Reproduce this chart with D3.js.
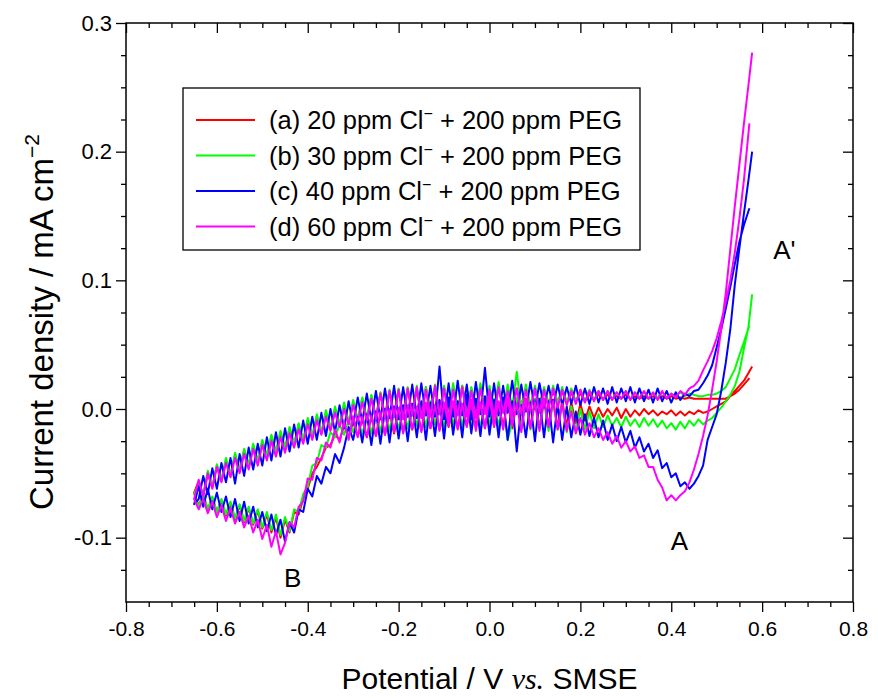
<!DOCTYPE html>
<html><head><meta charset="utf-8">
<script src="https://cdn.jsdelivr.net/npm/d3@7"></script>
<style>body{margin:0;background:#fff} text{font-family:"Liberation Sans",Arial,sans-serif;fill:#000}</style>
</head><body><svg id="chart" width="878" height="698"></svg>
<script>
// Potential grid (V vs. SMSE): cathodic sweep from the vertex, then anodic sweep back
const potentialReverse = [0.578,
0.57,0.56,0.55,0.54,0.53,0.52,0.51,0.50,0.49,0.48,
0.47,0.46,0.45,0.44,0.43,0.42,0.41,0.40,0.39,0.38,
0.37,0.36,0.35,0.34,0.33,0.32,0.31,0.30,0.29,0.28,
0.27,0.26,0.25,0.24,0.23,0.22,0.21,0.20,0.19,0.18,
0.17,0.16,0.15,0.14,0.13,0.12,0.11,0.10,0.09,0.08,
0.07,0.06,0.05,0.04,0.03,0.02,0.01,0.00,-0.01,-0.02,
-0.03,-0.04,-0.05,-0.06,-0.07,-0.08,-0.09,-0.10,-0.11,-0.12,
-0.13,-0.14,-0.15,-0.16,-0.17,-0.18,-0.19,-0.20,-0.21,-0.22,
-0.23,-0.24,-0.25,-0.26,-0.27,-0.28,-0.29,-0.30,-0.31,-0.32,
-0.33,-0.34,-0.35,-0.36,-0.37,-0.38,-0.39,-0.40,-0.41,-0.42,
-0.43,-0.44,-0.45,-0.46,-0.47,-0.48,-0.49,-0.50,-0.51,-0.52,
-0.53,-0.54,-0.55,-0.56,-0.57,-0.58,-0.59,-0.60,-0.61,-0.62,
-0.63,-0.64,-0.65];
const potentialForward = [
-0.64,-0.63,-0.62,-0.61,-0.60,-0.59,-0.58,-0.57,-0.56,-0.55,
-0.54,-0.53,-0.52,-0.51,-0.50,-0.49,-0.48,-0.47,-0.46,-0.45,
-0.44,-0.43,-0.42,-0.41,-0.40,-0.39,-0.38,-0.37,-0.36,-0.35,
-0.34,-0.33,-0.32,-0.31,-0.30,-0.29,-0.28,-0.27,-0.26,-0.25,
-0.24,-0.23,-0.22,-0.21,-0.20,-0.19,-0.18,-0.17,-0.16,-0.15,
-0.14,-0.13,-0.12,-0.11,-0.10,-0.09,-0.08,-0.07,-0.06,-0.05,
-0.04,-0.03,-0.02,-0.01,0.00,0.01,0.02,0.03,0.04,0.05,
0.06,0.07,0.08,0.09,0.10,0.11,0.12,0.13,0.14,0.15,
0.16,0.17,0.18,0.19,0.20,0.21,0.22,0.23,0.24,0.25,
0.26,0.27,0.28,0.29,0.30,0.31,0.32,0.33,0.34,0.35,
0.36,0.37,0.38,0.39,0.40,0.41,0.42,0.43,0.44,0.45,
0.46,0.47,0.48,0.49,0.50,0.51,0.52,0.53,0.54,0.55,
0.56,0.572];

// Current density values in µA cm^-2 (converted to mA cm^-2 when plotted)
// (a) 20 ppm Cl- + 200 ppm PEG
const aReverse = [33,
28,22,18,14,10,6,4,2,0,-2,
-3,-1,-4,-2,-5,-2,-5,-1,-4,-2,
-5,-1,-4,0,-5,-1,-6,0,-7,1,
-5,0,-6,1,-7,2,-9,4,-11,5,
-13,6,-14,7,-13,8,-15,7,-14,8,
-13,6,-15,7,-14,5,-13,6,-15,4,
-14,5,-13,3,-15,4,-14,2,-16,3,
-15,1,-17,0,-16,-1,-18,-2,-19,-3,
-20,-4,-21,-6,-22,-8,-21,-10,-22,-13,
-24,-20,-28,-30,-38,-45,-50,-62,-70,-82,
-80,-96,-86,-100,-84,-96,-82,-93,-79,-90,
-77,-88,-75,-86,-73,-83,-71,-80,-69,-78,
-67,-75,-65];
const aForward = [
-56,-67,-50,-61,-44,-56,-40,-52,-36,-48,
-32,-44,-29,-41,-25,-37,-21,-34,-18,-31,
-15,-28,-12,-25,-9,-22,-6,-19,-3,-16,
0,-13,3,-11,5,-9,8,-8,10,-7,
12,-6,14,-5,15,-6,16,-4,15,-5,
17,-3,16,-4,17,-2,16,-3,18,-1,
16,-2,17,0,16,-1,17,1,15,2,
16,3,15,4,14,5,14,5,13,6,
13,6,12,7,12,7,11,8,11,8,
11,8,10,8,11,8,10,8,10,8,
10,8,10,8,10,8,9,8,9,8,
8,8,8,8,8,8,8,10,12,15,
19,24];
// (b) 30 ppm Cl- + 200 ppm PEG
const bReverse = [89,
64,47,29,18,11,6,1,-3,-7,-9,
-12,-8,-13,-9,-15,-10,-16,-11,-15,-9,
-14,-8,-13,-7,-14,-8,-13,-6,-14,-7,
-13,-5,-14,-4,-15,-2,-16,0,-17,2,
-18,4,-16,6,-17,5,-15,8,-16,6,
-14,9,-10,-24,6,-14,8,-13,7,-15,
5,-12,8,-14,6,-13,7,-15,5,-12,
6,-14,4,-13,3,-15,2,-16,1,-17,
0,-18,-2,-19,-4,-20,-6,-18,-8,-20,
-12,-22,-18,-30,-28,-42,-44,-60,-66,-80,
-78,-95,-84,-98,-82,-94,-80,-92,-78,-89,
-76,-87,-74,-85,-72,-82,-70,-80,-68,-78,
-66,-76,-66];
const bForward = [
-58,-66,-48,-60,-43,-55,-38,-51,-34,-47,
-31,-43,-27,-40,-24,-36,-20,-33,-17,-30,
-14,-27,-11,-24,-7,-21,-4,-18,-1,-15,
2,-12,5,-10,7,-8,9,-7,11,-6,
13,-5,15,-6,16,-4,17,-5,18,-3,
17,-4,19,-2,18,-3,20,-1,18,-2,
17,0,20,-1,18,0,21,-2,19,1,
29,0,19,2,18,3,17,4,18,5,
17,5,16,6,15,6,15,7,14,7,
14,8,13,8,14,8,13,9,13,8,
12,9,13,9,12,10,13,10,12,11,
10,10,11,11,12,14,17,24,31,42,
52,65];
// (c) 40 ppm Cl- + 200 ppm PEG
const cReverse = [200,
178,152,125,97,62,36,14,-4,-14,-24,
-44,-52,-58,-62,-57,-60,-50,-53,-42,-46,
-32,-38,-27,-33,-22,-30,-17,-26,-14,-25,
-12,-24,-9,-22,-7,-21,-4,-20,-2,-22,
2,-24,4,-26,6,-22,8,-25,5,-22,
3,-33,6,-24,9,-22,7,-20,10,-21,
8,-19,11,-22,6,-20,9,-23,7,-21,
5,-24,6,-22,4,-25,3,-23,2,-26,
0,-27,-2,-28,-4,-26,-6,-24,-14,-30,
-42,-35,-50,-45,-58,-52,-68,-62,-80,-78,
-96,-88,-103,-86,-98,-82,-95,-80,-92,-76,
-89,-72,-87,-70,-84,-68,-80,-65,-78,-62,
-76,-60,-74];
const cForward = [
-70,-52,-66,-46,-62,-42,-57,-38,-58,-35,
-52,-30,-47,-27,-44,-22,-40,-18,-37,-15,
-33,-12,-30,-9,-27,-6,-24,-3,-21,0,
-18,3,-15,6,-12,9,-10,12,-9,14,
-8,16,-7,18,-8,17,-6,19,-7,20,
-5,18,-6,33,-8,20,-6,22,-5,19,
-8,21,-4,32,-6,20,-5,18,-3,22,
-4,19,-2,21,0,20,1,18,2,19,
3,17,4,18,3,16,4,17,5,16,
4,17,5,16,6,17,5,16,6,15,
5,16,6,14,5,13,7,12,10,14,
15,20,26,34,48,62,78,95,113,130,
143,156];
// (d) 60 ppm Cl- + 200 ppm PEG
const dReverse = [277,
252,222,190,158,124,90,62,37,15,-5,
-21,-35,-47,-57,-64,-67,-71,-67,-71,-61,
-55,-45,-45,-36,-38,-29,-33,-25,-30,-21,
-27,-18,-24,-15,-22,-11,-20,-7,-19,-2,
-17,4,-16,6,-14,8,-17,5,-15,7,
-18,4,-13,8,-16,6,-14,9,-15,5,
-17,7,-14,4,-16,6,-13,5,-17,3,
-15,5,-18,2,-16,3,-19,1,-18,0,
-20,-2,-21,-5,-22,-6,-22,-6,-24,-10,
-26,-16,-30,-26,-40,-38,-55,-54,-72,-76,
-92,-88,-104,-113,-95,-107,-90,-101,-86,-96,
-83,-92,-80,-89,-77,-87,-75,-84,-72,-81,
-70,-78,-70];
const dForward = [
-55,-68,-50,-62,-45,-57,-42,-53,-38,-50,
-35,-47,-31,-44,-28,-40,-25,-37,-22,-34,
-19,-30,-16,-27,-12,-24,-9,-20,-6,-17,
-3,-14,0,-12,3,-10,5,-9,8,-8,
12,-7,14,-6,15,-8,16,-5,17,-7,
15,-6,18,-4,16,-8,15,-5,17,-6,
14,-7,16,-4,15,-6,17,-3,14,-5,
16,-4,15,-2,16,-3,15,0,16,1,
15,3,14,4,15,5,14,6,14,7,
14,7,13,8,14,7,13,8,14,8,
13,7,14,8,12,9,14,11,16,18,
22,30,37,45,55,68,83,100,122,148,
178,222];

const seriesLabels = ["(a) 20 ppm Cl", "(b) 30 ppm Cl", "(c) 40 ppm Cl", "(d) 60 ppm Cl"];
const seriesReverse = [aReverse, bReverse, cReverse, dReverse];
const seriesForward = [aForward, bForward, cForward, dForward];
const seriesColors = ["#ff0000", "#00ff00", "#0000ff", "#ff00ff"];

const xTicks = [-0.8, -0.6, -0.4, -0.2, 0.0, 0.2, 0.4, 0.6, 0.8];
const xTickLabels = ["-0.8", "-0.6", "-0.4", "-0.2", "0.0", "0.2", "0.4", "0.6", "0.8"];
const yTicks = [-0.1, 0.0, 0.1, 0.2, 0.3];
const yTickLabels = ["-0.1", "0.0", "0.1", "0.2", "0.3"];
const xMinorTicks = [-0.75,-0.7,-0.65,-0.55,-0.5,-0.45,-0.35,-0.3,-0.25,-0.15,-0.1,-0.05,0.05,0.1,0.15,0.25,0.3,0.35,0.45,0.5,0.55,0.65,0.7,0.75];
const yMinorTicks = [-0.125,-0.075,-0.05,-0.025,0.025,0.05,0.075,0.125,0.15,0.175,0.225,0.25,0.275];
const annotations = [["A'", 0.649, 0.1235], ["A", 0.418, -0.1026], ["B", -0.433, -0.131]];

seriesReverse.forEach((s, i) => { if (s.length !== potentialReverse.length) throw new Error("reverse length " + i + ": " + s.length); });
seriesForward.forEach((s, i) => { if (s.length !== potentialForward.length) throw new Error("forward length " + i + ": " + s.length); });

const svg = d3.select("#chart");
const L = 126, R = 853, T = 23, B = 602;
const x = d3.scaleLinear().domain([-0.8, 0.8]).range([L, R]);
const y = d3.scaleLinear().domain([-0.15, 0.3]).range([B, T]);

svg.append("defs").append("clipPath").attr("id", "clip")
  .append("rect").attr("x", L).attr("y", T).attr("width", R - L).attr("height", B - T);

// data
const line = d3.line().x(d => x(d.v)).y(d => y(d.j));
const plot = svg.append("g").attr("clip-path", "url(#clip)");
seriesReverse.forEach((rev, i) => {
  const pts = potentialReverse.map((v, k) => ({ v, j: rev[k] / 1000 }))
    .concat(potentialForward.map((v, k) => ({ v, j: seriesForward[i][k] / 1000 })));
  plot.append("path").datum(pts).attr("d", line)
    .attr("fill", "none").attr("stroke", seriesColors[i]).attr("stroke-width", 2)
    .attr("stroke-linejoin", "round");
});

// axes
const fmtX = d => xTickLabels[xTicks.findIndex(t => Math.abs(t - d) < 1e-9)];
const fmtY = d => yTickLabels[yTicks.findIndex(t => Math.abs(t - d) < 1e-9)];
function styleAxis(g) {
  g.selectAll(".domain").remove();
  g.selectAll("line").attr("stroke", "#000").attr("stroke-width", 1.3);
  g.selectAll("text").attr("font-family", '"Liberation Sans", Arial, sans-serif').attr("fill", "#000");
}
svg.append("g").attr("transform", `translate(0,${B})`)
  .call(d3.axisBottom(x).tickValues(xTicks).tickFormat(fmtX).tickSize(10).tickPadding(9))
  .call(styleAxis).selectAll("text").attr("font-size", 21);
svg.append("g").attr("transform", `translate(0,${B})`)
  .call(d3.axisBottom(x).tickValues(xMinorTicks).tickFormat("").tickSize(5)).call(styleAxis);
svg.append("g").attr("transform", `translate(${L},0)`)
  .call(d3.axisLeft(y).tickValues(yTicks).tickFormat(fmtY).tickSize(10).tickPadding(4))
  .call(styleAxis).selectAll("text").attr("font-size", 22);
svg.append("g").attr("transform", `translate(${L},0)`)
  .call(d3.axisLeft(y).tickValues(yMinorTicks).tickFormat("").tickSize(5)).call(styleAxis);
// mirrored (inward) ticks on top and right
svg.append("g").attr("transform", `translate(0,${T})`)
  .call(d3.axisBottom(x).tickValues(xTicks).tickFormat("").tickSize(10)).call(styleAxis);
svg.append("g").attr("transform", `translate(0,${T})`)
  .call(d3.axisBottom(x).tickValues(xMinorTicks).tickFormat("").tickSize(5)).call(styleAxis);
svg.append("g").attr("transform", `translate(${R},0)`)
  .call(d3.axisLeft(y).tickValues(yTicks).tickFormat("").tickSize(10)).call(styleAxis);
svg.append("g").attr("transform", `translate(${R},0)`)
  .call(d3.axisLeft(y).tickValues(yMinorTicks).tickFormat("").tickSize(5)).call(styleAxis);

svg.append("rect").attr("x", L).attr("y", T).attr("width", R - L).attr("height", B - T)
  .attr("fill", "none").attr("stroke", "#000").attr("stroke-width", 1.5);

// axis titles
const xt = svg.append("text").attr("x", (L + R) / 2).attr("y", 689).attr("text-anchor", "middle").attr("font-size", 30);
xt.append("tspan").text("Potential / V ");
xt.append("tspan").attr("font-family", '"Liberation Serif", "Times New Roman", serif').attr("font-style", "italic").text("vs.");
xt.append("tspan").text(" SMSE");

const yt = svg.append("text").attr("transform", "translate(53,322) rotate(-90)").attr("text-anchor", "middle").attr("font-size", 33);
yt.append("tspan").text("Current density / mA cm");
yt.append("tspan").attr("font-size", 21).attr("dy", -14).text("\u22122");

// legend
const lg = svg.append("g");
lg.append("rect").attr("x", 183).attr("y", 88).attr("width", 457).attr("height", 162)
  .attr("fill", "#fff").attr("stroke", "#000").attr("stroke-width", 1.3);
seriesLabels.forEach((lab, i) => {
  const yy = 120 + i * 35.5;
  lg.append("line").attr("x1", 196).attr("x2", 255).attr("y1", yy).attr("y2", yy)
    .attr("stroke", seriesColors[i]).attr("stroke-width", 2);
  const t = lg.append("text").attr("x", 269).attr("y", yy + 9).attr("font-size", 25.5);
  t.append("tspan").text(lab);
  t.append("tspan").attr("font-size", 16).attr("dy", -10).text("\u2212");
  t.append("tspan").attr("dy", 10).text(" + 200 ppm PEG");
});

// peak labels
annotations.forEach(([txt, v, j]) => {
  svg.append("text").attr("x", x(v)).attr("y", y(j)).attr("text-anchor", "middle")
    .attr("dominant-baseline", "central").attr("font-size", 26).text(txt);
});
</script></body></html>
